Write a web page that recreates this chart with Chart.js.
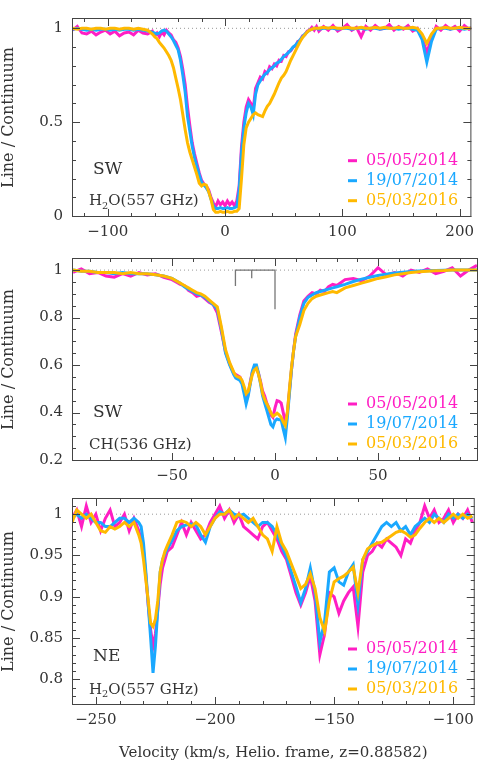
<!DOCTYPE html>
<html>
<head>
<meta charset="utf-8">
<script src="https://cdn.jsdelivr.net/npm/chart.js@4/dist/chart.umd.min.js"></script>
<style>
  body { margin: 0; background: #fff; width: 480px; height: 762px; position: relative; overflow: hidden; }
  canvas { position: absolute; left: 0; }
</style>
</head>
<body>
<canvas id="c1" width="480" height="240" style="top:0px"></canvas>
<canvas id="c2" width="480" height="240" style="top:240px"></canvas>
<canvas id="c3" width="480" height="282" style="top:480px"></canvas>
<script>
// observation dates, one spectrum per date and panel
var dates = ['05/05/2014', '19/07/2014', '05/03/2016'];
var colors = ['#ff1ec4', '#1aa8ff', '#ffb900'];

// ---- panel 1 : H2O(557 GHz), SW image ----
var velH2OSW = [-130,-126,-122,-118,-114,-110,-106,-102,-98,-94,-90,-86,-82,-78,-74,-70,-66,-62,
  -60,-58,-56,-54,-52,-50,-48,-46,-44,-42,-40,-38,-36,-34,-32,-30,-28,-26,-24,-22,-20,-18,-16,-14,-12,-10,-8,-6,-4,-2,
  0,2,4,6,8,10,12,14,16,18,20,22,24,26,28,30,32,34,36,38,40,42,44,46,48,50,52,54,56,58,60,62,64,66,68,70,72,74,76,78,80,
  84,88,92,96,100,104,108,112,116,120,124,128,132,136,140,144,148,152,156,160,164,168,172,176,180,184,188,192,196,200,204,208,210];
var h2oSW_2014a = [0.99,1.01,0.975,0.97,0.985,0.965,0.98,0.99,0.97,0.985,0.96,0.975,0.98,0.965,0.99,0.975,0.97,0.985,
  0.96,0.975,0.955,0.98,0.965,0.99,0.975,0.965,0.94,0.925,0.895,0.85,0.78,0.70,0.58,0.48,0.39,0.33,0.28,0.23,0.19,0.17,0.16,0.14,0.10,0.07,0.05,0.08,0.06,0.075,
  0.055,0.08,0.06,0.075,0.055,0.08,0.16,0.37,0.50,0.58,0.62,0.60,0.57,0.68,0.71,0.74,0.73,0.77,0.76,0.795,0.785,0.81,0.80,0.83,0.825,0.855,0.85,0.875,0.88,0.90,0.905,0.93,0.935,0.96,0.965,0.985,0.99,1.005,0.99,1.01,0.985,
  1.01,0.99,1.015,0.985,1.0,1.02,0.99,1.005,0.955,1.01,0.99,1.015,0.995,1.0,1.02,0.99,1.01,0.995,1.015,0.985,1.0,0.95,0.87,0.95,1.01,0.99,1.015,0.995,1.01,0.985,1.015,0.995,1.005];
var h2oSW_2014b = [0.995,1.0,0.995,0.99,0.995,0.99,0.995,0.995,0.99,0.995,0.99,0.995,0.995,0.99,0.995,0.99,0.985,0.98,
  0.975,0.97,0.975,0.985,0.99,0.985,0.97,0.955,0.935,0.91,0.885,0.83,0.75,0.66,0.53,0.45,0.37,0.31,0.265,0.22,0.18,0.165,0.15,0.13,0.09,0.055,0.04,0.04,0.045,0.04,
  0.04,0.045,0.04,0.04,0.045,0.05,0.14,0.34,0.47,0.55,0.60,0.58,0.54,0.65,0.70,0.72,0.74,0.755,0.765,0.78,0.79,0.80,0.815,0.82,0.835,0.85,0.86,0.87,0.885,0.90,0.91,0.925,0.94,0.955,0.97,0.98,0.99,0.995,1.0,1.0,0.995,
  1.0,1.0,1.0,0.995,1.0,1.0,0.995,1.0,1.0,0.995,1.0,1.0,0.995,1.0,1.0,1.0,0.995,1.0,1.0,0.995,0.99,0.94,0.82,0.93,0.995,1.0,1.0,0.995,1.0,1.0,0.995,1.0,1.0];
var h2oSW_2016 = [1.0,0.995,1.0,1.0,0.995,1.0,1.0,0.995,1.0,1.0,0.995,1.0,1.0,0.995,1.0,0.995,0.99,0.97,
  0.955,0.945,0.925,0.91,0.895,0.875,0.855,0.83,0.79,0.735,0.68,0.62,0.54,0.46,0.39,0.34,0.30,0.26,0.22,0.175,0.16,0.17,0.165,0.13,0.09,0.035,0.02,0.02,0.025,0.02,
  0.02,0.025,0.02,0.02,0.025,0.025,0.04,0.20,0.38,0.47,0.50,0.52,0.54,0.55,0.54,0.535,0.53,0.56,0.585,0.60,0.625,0.65,0.68,0.71,0.735,0.75,0.77,0.80,0.83,0.855,0.88,0.905,0.93,0.95,0.965,0.98,0.99,0.995,1.0,1.0,1.0,
  1.005,1.0,1.005,1.0,1.0,1.005,1.0,1.0,1.005,1.0,1.0,1.005,1.0,1.005,1.0,1.0,1.005,1.0,1.0,1.005,1.0,0.97,0.92,0.97,1.0,1.0,1.005,1.0,1.0,1.005,1.0,1.0,1.0];

// ---- panel 2 : CH(536 GHz), SW image ----
var velCHSW = [-98,-94,-90,-86,-82,-78,-74,-70,-66,-62,-58,-54,-50,
  -48,-46,-44,-42,-40,-38,-36,-34,-32,-30,-28,-26,-24,-22,
  -20,-19,-18,-17,-16,-15,-14,-13,-12,-11,-10,-9,-8,-7,-6,-5,-4,-3,-2,-1,0,1,2,3,4,5,6,7,8,9,10,
  12,14,16,18,20,22,24,26,28,30,
  34,38,42,46,50,54,58,62,66,70,74,78,82,86,90,94,98];
var chSW_2014a = [0.99,1.005,0.985,0.99,0.975,0.97,0.985,0.975,0.99,0.98,0.985,0.97,0.96,
  0.95,0.94,0.935,0.915,0.905,0.89,0.895,0.88,0.865,0.855,0.82,0.74,0.655,0.605,
  0.565,0.56,0.555,0.55,0.53,0.50,0.45,0.48,0.53,0.57,0.59,0.59,0.565,0.53,0.49,0.47,0.44,0.42,0.39,0.38,0.42,0.45,0.447,0.44,0.40,0.36,0.40,0.49,0.58,0.66,0.73,
  0.81,0.87,0.89,0.905,0.90,0.915,0.91,0.93,0.94,0.935,
  0.96,0.965,0.955,0.975,1.01,0.98,0.99,0.975,1.0,0.99,1.005,0.985,0.995,1.01,0.975,1.0,1.02];
var chSW_2014b = [1.0,0.995,0.995,0.99,0.99,0.985,0.99,0.985,0.985,0.985,0.98,0.975,0.965,
  0.955,0.945,0.93,0.92,0.91,0.90,0.895,0.885,0.87,0.855,0.835,0.75,0.65,0.60,
  0.56,0.545,0.54,0.535,0.52,0.48,0.437,0.47,0.52,0.575,0.60,0.60,0.565,0.52,0.47,0.44,0.41,0.38,0.35,0.34,0.365,0.373,0.37,0.37,0.33,0.295,0.38,0.48,0.58,0.66,0.72,
  0.80,0.86,0.885,0.895,0.905,0.91,0.915,0.92,0.925,0.93,
  0.94,0.952,0.962,0.97,0.977,0.983,0.988,0.991,0.994,0.996,0.997,0.998,0.999,1.0,1.0,1.0,1.0];
var chSW_2016 = [1.0,0.995,0.995,0.99,0.99,0.99,0.985,0.99,0.985,0.985,0.98,0.975,0.965,
  0.955,0.945,0.935,0.925,0.915,0.905,0.90,0.89,0.875,0.86,0.845,0.76,0.665,0.61,
  0.57,0.555,0.55,0.548,0.535,0.51,0.48,0.49,0.525,0.56,0.58,0.587,0.56,0.525,0.48,0.455,0.437,0.42,0.40,0.385,0.39,0.397,0.39,0.38,0.36,0.345,0.40,0.50,0.59,0.66,0.72,
  0.77,0.83,0.86,0.88,0.89,0.895,0.90,0.905,0.91,0.905,
  0.925,0.935,0.945,0.955,0.965,0.972,0.98,0.985,0.99,0.993,0.995,0.997,0.998,1.0,1.0,1.0,1.0];
// CH hyperfine components: velocity and relative depth of the marker
var hfsVel = [-19.2, -11.3, 0];
var hfsDepth = [0.933, 0.966, 0.835];

// ---- panel 3 : H2O(557 GHz), NE image ----
var velH2ONE = [-260,-258,-256,-254,-252,-250,-248,-246,-244,-242,-240,-238,-236,-234,
  -232,-231,-230,-229,-228,-227,-226,-225,-224,-223,-222,-221,-220,
  -218,-216,-214,-212,-210,-208,-206,-204,-202,-200,-198,-196,-194,-192,-190,-188,-186,-184,-182,-180,
  -178,-176,-174,-172,-170,-168,-166,-164,-162,-160,-158,-156,-154,-152,-150,-148,-146,-144,-142,-140,
  -138,-136,-134,-132,-130,-128,-126,-124,-122,-120,-118,-116,-114,-112,-110,-108,-106,-104,-102,-100,-98,-96,-94,-92];
var h2oNE_2014a = [0.995,1.005,0.985,1.01,0.99,1.0,0.98,0.995,1.005,0.985,0.99,1.0,0.98,0.995,
  0.98,0.97,0.955,0.925,0.89,0.86,0.84,0.855,0.885,0.915,0.935,0.945,0.955,
  0.96,0.975,0.99,0.975,0.99,0.98,0.97,0.975,0.99,1.0,1.01,0.995,1.005,0.99,1.0,0.985,0.98,0.975,0.97,0.985,
  0.99,0.98,0.97,0.955,0.945,0.925,0.905,0.89,0.905,0.925,0.895,0.83,0.855,0.905,0.90,0.88,0.895,0.905,0.912,0.864,
  0.93,0.95,0.955,0.965,0.96,0.97,0.965,0.96,0.95,0.97,0.965,0.98,0.99,1.01,0.995,1.005,0.99,0.995,1.005,0.99,1.0,0.995,1.005,0.99];
var h2oNE_2014b = [0.995,1.0,0.995,1.0,0.995,0.99,0.99,0.985,0.985,0.99,0.995,0.995,0.99,0.995,
  0.99,0.985,0.965,0.93,0.89,0.85,0.808,0.84,0.885,0.93,0.945,0.952,0.958,
  0.968,0.98,0.985,0.987,0.988,0.987,0.975,0.966,0.985,0.995,1.003,1.0,1.005,1.0,0.998,1.0,0.995,0.99,0.985,0.99,
  0.99,0.985,0.975,0.962,0.948,0.93,0.912,0.893,0.91,0.935,0.905,0.845,0.87,0.93,0.935,0.918,0.914,0.93,0.939,0.89,
  0.945,0.955,0.965,0.975,0.985,0.99,0.985,0.99,0.98,0.985,0.975,0.985,0.99,0.995,0.99,1.0,0.995,0.99,1.0,0.995,1.0,0.995,1.0,0.995];
var h2oNE_2016 = [0.99,1.005,1.0,0.995,1.0,0.99,0.98,0.978,0.985,0.982,0.985,0.99,0.985,0.99,
  0.975,0.965,0.945,0.92,0.895,0.868,0.864,0.873,0.895,0.93,0.945,0.955,0.962,
  0.975,0.99,0.992,0.99,0.985,0.99,0.985,0.975,0.985,0.995,1.0,1.0,1.005,0.995,1.0,0.995,0.99,0.995,0.985,0.975,
  0.97,0.955,0.985,0.965,0.955,0.94,0.925,0.91,0.915,0.928,0.91,0.875,0.858,0.895,0.918,0.922,0.925,0.93,0.936,0.905,
  0.945,0.958,0.962,0.965,0.966,0.97,0.974,0.978,0.98,0.977,0.972,0.975,0.983,0.99,0.995,0.99,0.995,0.99,0.995,1.0,0.995,1.0,0.995,0.998];

// ---- axes: major tick values and their labels ----
var xTicks1 = [-100, 0, 100, 200],      xLabels1 = ['\u2212100', '0', '100', '200'];
var yTicks1 = [0, 0.5, 1],              yLabels1 = ['0', '0.5', '1'];
var xTicks2 = [-50, 0, 50],             xLabels2 = ['\u221250', '0', '50'];
var yTicks2 = [0.2, 0.4, 0.6, 0.8, 1],  yLabels2 = ['0.2', '0.4', '0.6', '0.8', '1'];
var xTicks3 = [-250, -200, -150, -100], xLabels3 = ['\u2212250', '\u2212200', '\u2212150', '\u2212100'];
var yTicks3 = [0.8, 0.85, 0.9, 0.95, 1], yLabels3 = ['0.8', '0.85', '0.9', '0.95', '1'];

var FONT = "'DejaVu Serif', serif";
var INK = '#333';

function pts(xs, ys) {
  return xs.map(function(v, i) { return { x: v, y: ys[i] }; });
}

// draw a string made of parts, some of them as subscripts
function drawRich(ctx, parts, x, y, size, color) {
  ctx.fillStyle = color;
  ctx.textBaseline = 'middle';
  ctx.textAlign = 'left';
  parts.forEach(function(p) {
    var s = p.sub ? size * 0.65 : size;
    ctx.font = s + 'px ' + FONT;
    ctx.fillText(p.t, x, p.sub ? y + size * 0.3 : y);
    x += ctx.measureText(p.t).width;
  });
}

// frame with inward ticks on all four sides, panel labels and legend
var framePlugin = {
  id: 'frame',
  afterDatasetsDraw: function(chart, args, o) {
    var ctx = chart.ctx, a = chart.chartArea, sx = chart.scales.x, sy = chart.scales.y;
    ctx.save();
    ctx.strokeStyle = '#444';
    ctx.lineWidth = 1;
    ctx.strokeRect(a.left + 0.5, a.top + 0.5, a.right - a.left - 1, a.bottom - a.top - 1);
    function isMajor(v, step) { return Math.abs(v / step - Math.round(v / step)) < 1e-6; }
    ctx.beginPath();
    var v, p, len;
    for (v = Math.ceil(sx.min / o.xMinor - 1e-9) * o.xMinor; v <= sx.max; v += o.xMinor) {
      p = Math.round(sx.getPixelForValue(v)) + 0.5;
      len = isMajor(v, o.xMajor) ? 8 : 4;
      ctx.moveTo(p, a.bottom); ctx.lineTo(p, a.bottom - len);
      ctx.moveTo(p, a.top); ctx.lineTo(p, a.top + len);
    }
    for (v = Math.ceil(sy.min / o.yMinor - 1e-9) * o.yMinor; v <= sy.max + 1e-9; v += o.yMinor) {
      p = Math.round(sy.getPixelForValue(v)) + 0.5;
      len = isMajor(v, o.yMajor) ? 8 : 4;
      ctx.moveTo(a.left, p); ctx.lineTo(a.left + len, p);
      ctx.moveTo(a.right, p); ctx.lineTo(a.right - len, p);
    }
    ctx.stroke();
    ctx.restore();
  },
  afterDraw: function(chart, args, o) {
    var ctx = chart.ctx, a = chart.chartArea;
    ctx.save();
    // y title
    ctx.translate(9, (a.top + a.bottom) / 2);
    ctx.rotate(-Math.PI / 2);
    ctx.font = '16px ' + FONT;
    ctx.fillStyle = INK;
    ctx.textAlign = 'center';
    ctx.textBaseline = 'middle';
    ctx.fillText('Line / Continuum', 0, 0);
    ctx.setTransform(1, 0, 0, 1, 0, 0);
    // region and line labels
    drawRich(ctx, [{ t: o.region }], 93, o.regionY, 17, INK);
    drawRich(ctx, o.species, 89, o.speciesY, 15, INK);
    // legend
    dates.forEach(function(d, i) {
      var y = o.legendY + i * 20;
      ctx.strokeStyle = colors[i];
      ctx.lineWidth = 3;
      ctx.beginPath(); ctx.moveTo(348, y); ctx.lineTo(357, y); ctx.stroke();
      drawRich(ctx, [{ t: d }], 366, y, 16, colors[i]);
    });
    if (o.xTitle) {
      ctx.font = '15px ' + FONT;
      ctx.fillStyle = INK;
      ctx.textAlign = 'center';
      ctx.textBaseline = 'middle';
      ctx.fillText(o.xTitle, (a.left + a.right) / 2, o.xTitleY);
    }
    ctx.restore();
  }
};

function makePanel(id, p) {
  var sets = [];
  var series = [p.s1, p.s2, p.s3];
  series.forEach(function(s, i) {
    sets.push({
      data: pts(p.vel, s),
      borderColor: colors[i],
      borderWidth: 3,
      order: 3 - i
    });
  });
  // continuum level
  sets.push({
    data: [{ x: p.xMin, y: 1 }, { x: p.xMax, y: 1 }],
    borderColor: '#999',
    borderWidth: 1,
    borderDash: [1, 3],
    order: 10
  });
  (p.extra || []).forEach(function(e) { sets.push(e); });

  return new Chart(document.getElementById(id), {
    type: 'line',
    data: { datasets: sets },
    options: {
      responsive: false,
      animation: false,
      events: [],
      layout: { padding: { top: p.padTop, right: p.padRight, left: 0, bottom: 0 } },
      elements: { point: { radius: 0 }, line: { tension: 0 } },
      plugins: {
        legend: { display: false },
        tooltip: { enabled: false },
        frame: p.frame
      },
      scales: {
        x: {
          type: 'linear', min: p.xMin, max: p.xMax,
          grid: { display: false, drawTicks: false },
          border: { display: false },
          afterBuildTicks: function(s) { s.ticks = p.xTicks.map(function(v) { return { value: v }; }); },
          afterFit: function(s) { s.height = p.xHeight; },
          ticks: {
            autoSkip: false, maxRotation: 0, padding: 6, color: INK,
            font: { family: FONT, size: 15 },
            callback: function(v, i) { return p.xLabels[i]; }
          }
        },
        y: {
          type: 'linear', min: p.yMin, max: p.yMax,
          grid: { display: false, drawTicks: false },
          border: { display: false },
          afterBuildTicks: function(s) { s.ticks = p.yTicks.map(function(v) { return { value: v }; }); },
          afterFit: function(s) { s.width = 72; },
          ticks: {
            autoSkip: false, padding: 9, color: INK,
            font: { family: FONT, size: 15 },
            callback: function(v, i) { return p.yLabels[i]; }
          }
        }
      }
    },
    plugins: [framePlugin]
  });
}

var hfsColor = '#777';
makePanel('c1', {
  vel: velH2OSW, s1: h2oSW_2014a, s2: h2oSW_2014b, s3: h2oSW_2016,
  xMin: -130.5, xMax: 210, yMin: -0.005, yMax: 1.055,
  xTicks: xTicks1, xLabels: xLabels1, yTicks: yTicks1, yLabels: yLabels1,
  padTop: 1, padRight: 1, xHeight: 23,
  frame: { xMinor: 20, xMajor: 100, yMinor: 0.1, yMajor: 0.5,
    region: 'SW', regionY: 170, species: [{ t: 'H' }, { t: '2', sub: true }, { t: 'O(557 GHz)' }], speciesY: 201.5,
    legendY: 160.7 }
});

makePanel('c2', {
  vel: velCHSW, s1: chSW_2014a, s2: chSW_2014b, s3: chSW_2016,
  xMin: -98.5, xMax: 98.5, yMin: 0.196, yMax: 1.051,
  xTicks: xTicks2, xLabels: xLabels2, yTicks: yTicks2, yLabels: yLabels2,
  padTop: 4, padRight: 2, xHeight: 19,
  extra: [
    { data: [{ x: hfsVel[0], y: hfsDepth[0] }, { x: hfsVel[0], y: 1 }, { x: hfsVel[2], y: 1 }, { x: hfsVel[2], y: hfsDepth[2] }],
      borderColor: hfsColor, borderWidth: 1.3, order: 9 },
    { data: [{ x: hfsVel[1], y: 1 }, { x: hfsVel[1], y: hfsDepth[1] }],
      borderColor: hfsColor, borderWidth: 1.3, order: 9 }
  ],
  frame: { xMinor: 10, xMajor: 50, yMinor: 0.05, yMajor: 0.2,
    region: 'SW', regionY: 173, species: [{ t: 'CH(536 GHz)' }], speciesY: 205,
    legendY: 164 }
});

makePanel('c3', {
  vel: velH2ONE, s1: h2oNE_2014a, s2: h2oNE_2014b, s3: h2oNE_2016,
  xMin: -260, xMax: -91, yMin: 0.769, yMax: 1.0196,
  xTicks: xTicks3, xLabels: xLabels3, yTicks: yTicks3, yLabels: yLabels3,
  padTop: 8, padRight: 2, xHeight: 57,
  frame: { xMinor: 10, xMajor: 50, yMinor: 0.01, yMajor: 0.05,
    region: 'NE', regionY: 177, species: [{ t: 'H' }, { t: '2', sub: true }, { t: 'O(557 GHz)' }], speciesY: 210,
    legendY: 169,
    xTitle: 'Velocity (km/s, Helio. frame, z=0.88582)', xTitleY: 273 }
});
</script>
</body>
</html>
